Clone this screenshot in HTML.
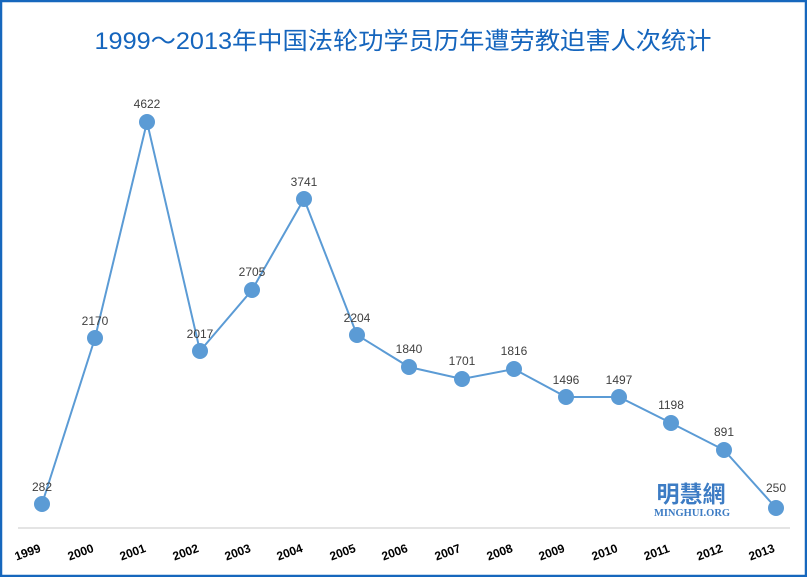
<!DOCTYPE html>
<html><head><meta charset="utf-8"><style>
html,body{margin:0;padding:0;background:#fff;}
</style></head><body>
<svg width="807" height="577" xmlns="http://www.w3.org/2000/svg" style="display:block">
<rect x="1" y="1" width="805" height="575" fill="#fff" stroke="#1667bd" stroke-width="2.5"/>
<text x="403" y="49" text-anchor="middle" font-family="'Liberation Sans','Noto Sans CJK SC',sans-serif" font-size="24" fill="#1565bd" textLength="617" lengthAdjust="spacingAndGlyphs">1999～2013年中国法轮功学员历年遭劳教迫害人次统计</text>
<line x1="18" y1="528" x2="790" y2="528" stroke="#c8c8c8" stroke-width="1"/>
<text x="691" y="502" text-anchor="middle" font-family="'Noto Sans CJK TC','WenQuanYi Zen Hei',sans-serif" font-size="23" font-weight="bold" fill="#3d7cc4">明慧網</text>
<text x="692" y="516" text-anchor="middle" font-family="'Liberation Serif',serif" font-size="10.5" font-weight="bold" fill="#3d7cc4">MINGHUI.ORG</text>
<polyline fill="none" stroke="#5b9bd5" stroke-width="2" points="42,504 95,338 147,122 200,351 252,290 304,199 357,335 409,367 462,379 514,369 566,397 619,397 671,423 724,450 776,508"/>
<g fill="#5b9bd5">
<circle cx="42" cy="504" r="8"/><circle cx="95" cy="338" r="8"/><circle cx="147" cy="122" r="8"/><circle cx="200" cy="351" r="8"/><circle cx="252" cy="290" r="8"/><circle cx="304" cy="199" r="8"/><circle cx="357" cy="335" r="8"/><circle cx="409" cy="367" r="8"/><circle cx="462" cy="379" r="8"/><circle cx="514" cy="369" r="8"/><circle cx="566" cy="397" r="8"/><circle cx="619" cy="397" r="8"/><circle cx="671" cy="423" r="8"/><circle cx="724" cy="450" r="8"/><circle cx="776" cy="508" r="8"/>
</g>
<g font-family="'Liberation Sans',sans-serif" font-size="12" fill="#404040" text-anchor="middle">
<text x="42" y="491">282</text><text x="95" y="325">2170</text><text x="147" y="108">4622</text><text x="200" y="338">2017</text><text x="252" y="276">2705</text><text x="304" y="186">3741</text><text x="357" y="322">2204</text><text x="409" y="353">1840</text><text x="462" y="365">1701</text><text x="514" y="355">1816</text><text x="566" y="384">1496</text><text x="619" y="384">1497</text><text x="671" y="409">1198</text><text x="724" y="436">891</text><text x="776" y="492">250</text>
</g>
<g font-family="'Liberation Sans',sans-serif" font-size="12" font-weight="bold" fill="#000" text-anchor="middle">
<text transform="translate(29,556) rotate(-20)">1999</text>
<text transform="translate(82,556) rotate(-20)">2000</text>
<text transform="translate(134,556) rotate(-20)">2001</text>
<text transform="translate(187,556) rotate(-20)">2002</text>
<text transform="translate(239,556) rotate(-20)">2003</text>
<text transform="translate(291,556) rotate(-20)">2004</text>
<text transform="translate(344,556) rotate(-20)">2005</text>
<text transform="translate(396,556) rotate(-20)">2006</text>
<text transform="translate(449,556) rotate(-20)">2007</text>
<text transform="translate(501,556) rotate(-20)">2008</text>
<text transform="translate(553,556) rotate(-20)">2009</text>
<text transform="translate(606,556) rotate(-20)">2010</text>
<text transform="translate(658,556) rotate(-20)">2011</text>
<text transform="translate(711,556) rotate(-20)">2012</text>
<text transform="translate(763,556) rotate(-20)">2013</text>
</g>
</svg>
</body></html>
